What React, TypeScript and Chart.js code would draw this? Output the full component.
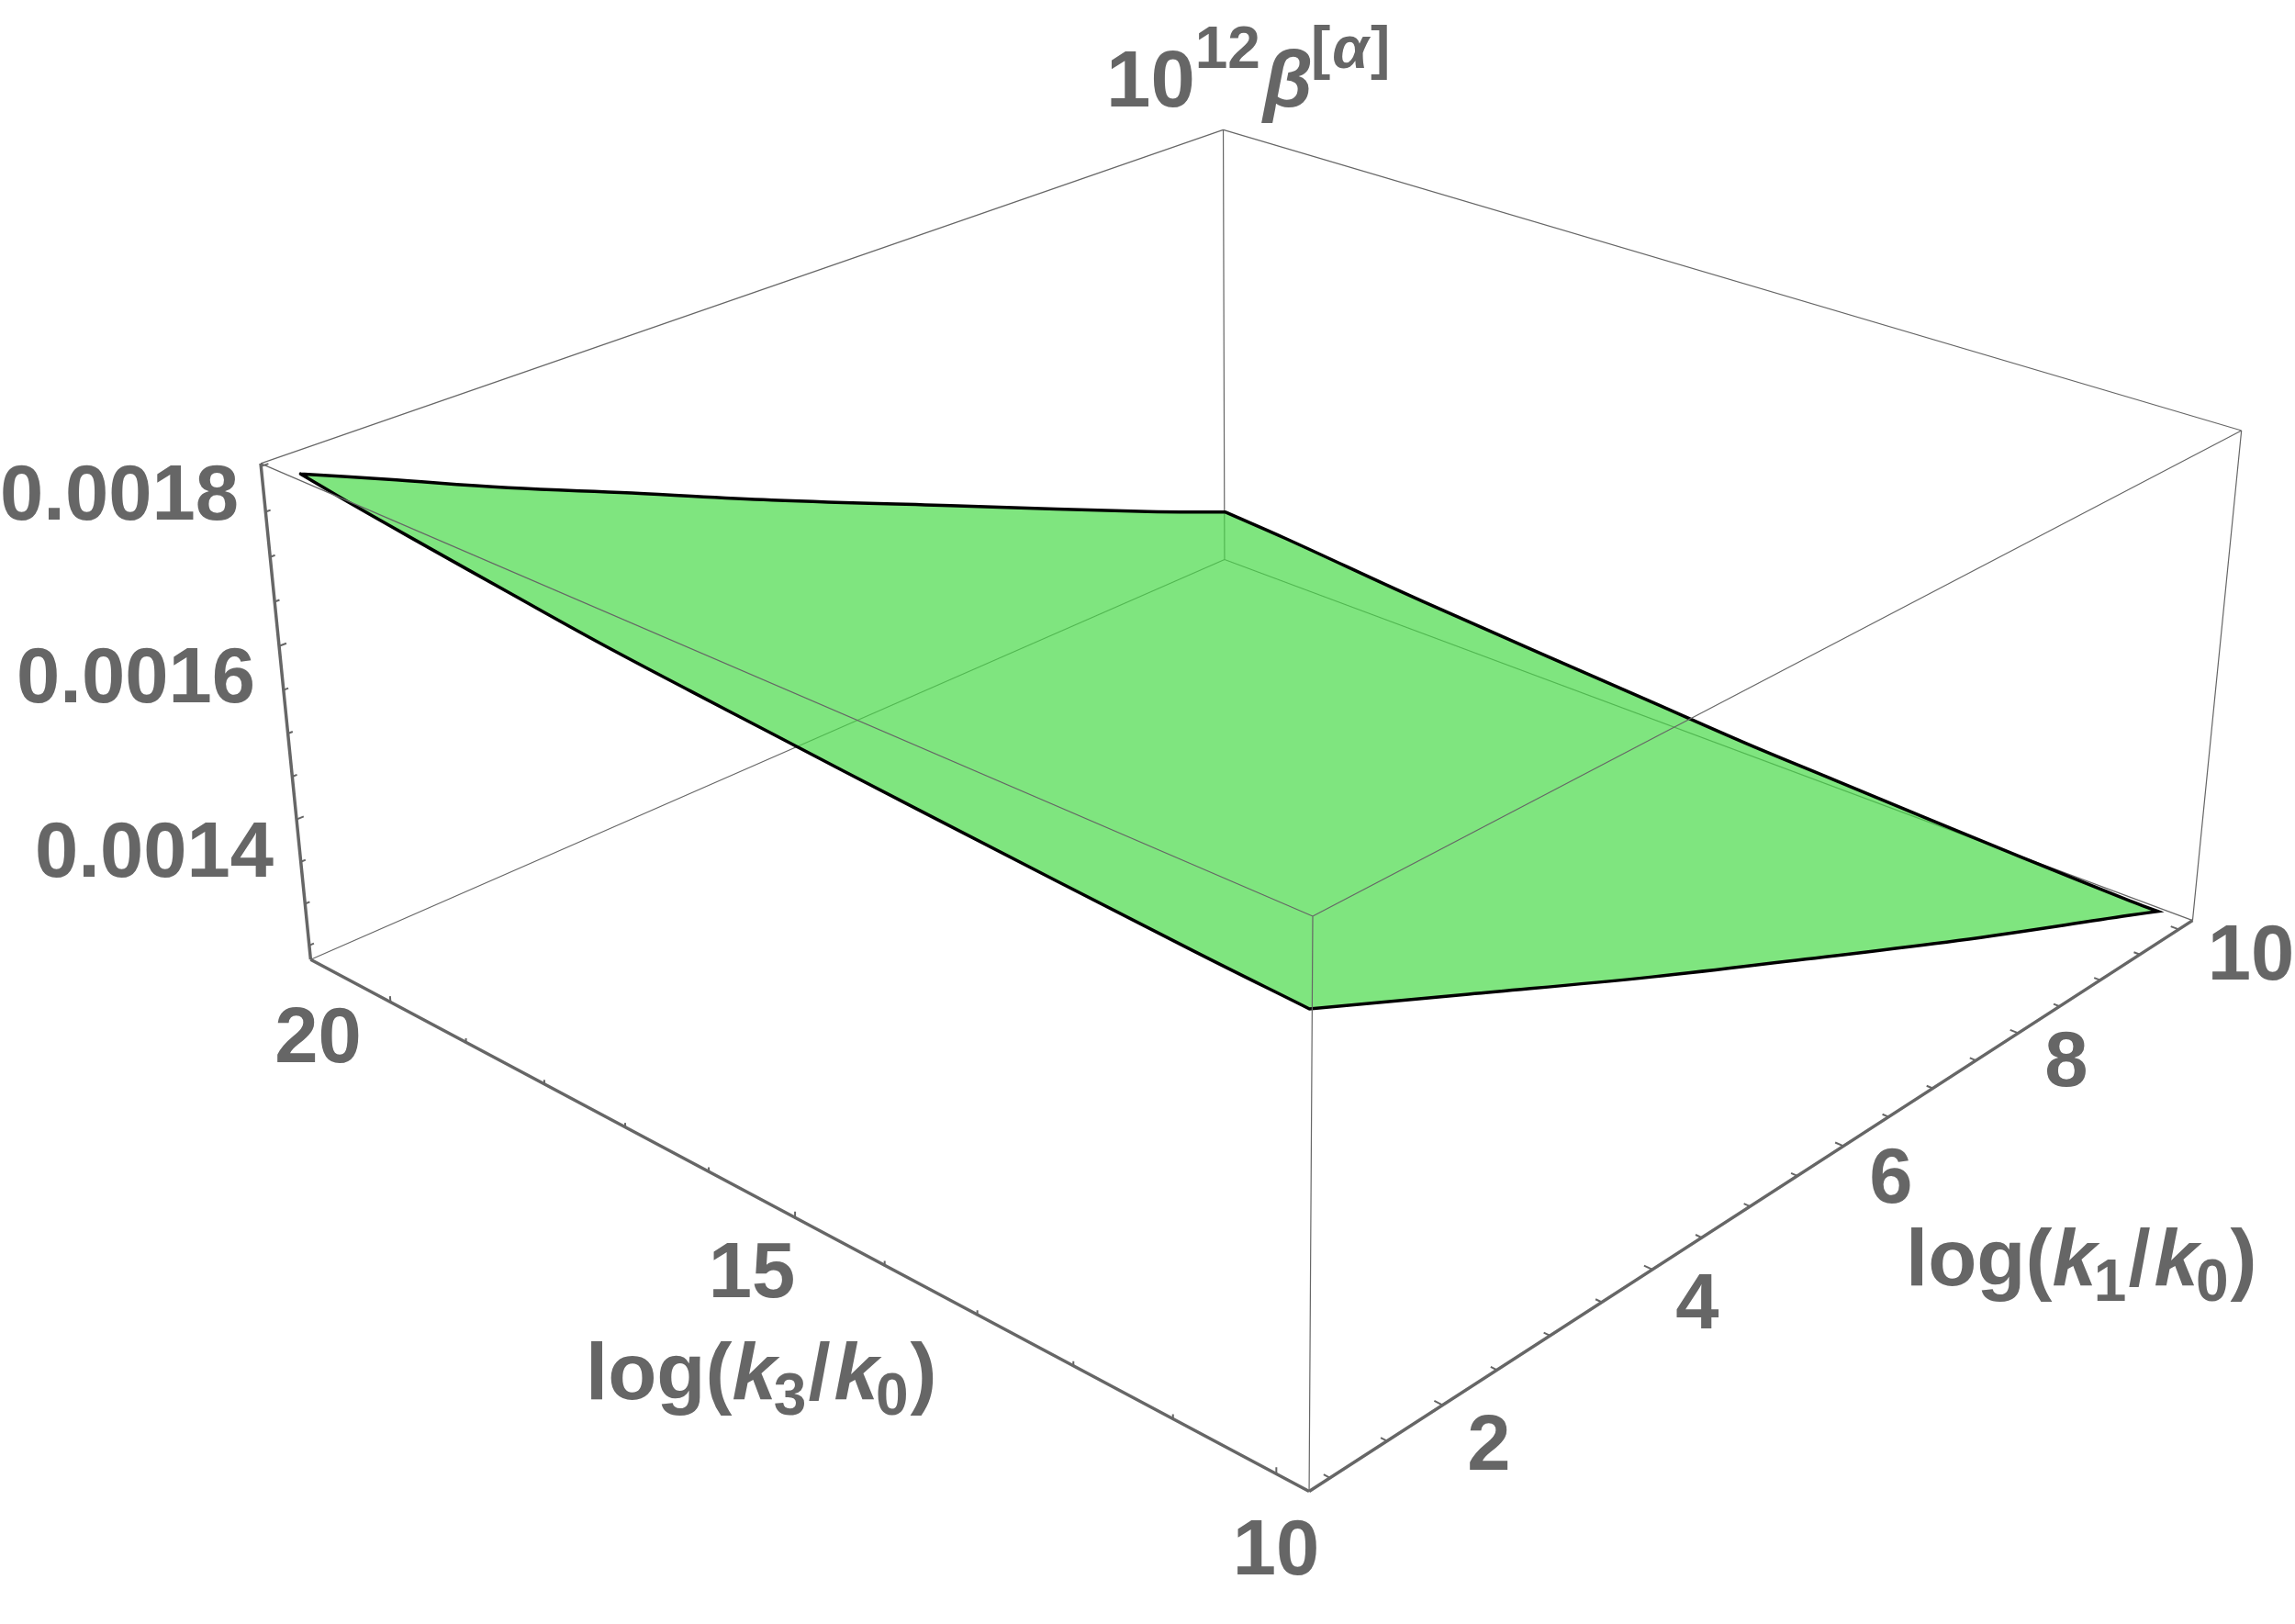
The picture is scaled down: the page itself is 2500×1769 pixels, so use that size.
import React, { useEffect, useRef } from "react";
import { Chart, registerables } from "chart.js";
Chart.register(...registerables);

// ---------- data (beta values in units of 1e-6) ----------
const edgeLowK1_k3 = [20.87, 20.16, 19.24, 18.28, 17.19, 16.14, 15.25, 13.7, 10.98, 9.91];
const edgeLowK1_beta = [1791, 1781, 1770, 1759, 1747, 1738, 1731, 1719, 1700, 1694];
const edgeHighK1_k3 = [20.87, 20.06, 18.27, 15.44, 14.36, 13.32, 12.31, 11.33, 10.19, 9.91];
const edgeHighK1_beta = [1315, 1309, 1292, 1271, 1263, 1258, 1253, 1249, 1245, 1245];
const edgeHighK3_k1 = [1, 1.68, 2.7, 3.79, 5.1, 7.05, 9.08, 10];
const edgeHighK3_beta = [1791, 1753, 1695, 1637, 1566, 1465, 1360, 1315];
const edgeLowK3_k1 = [1, 2.37, 4.11, 5.71, 7.45, 9.62, 10];
const edgeLowK3_beta = [1694, 1622, 1531, 1451, 1365, 1263, 1245];

const k1Ticks = [1, 1.5, 2, 2.5, 3, 3.5, 4, 4.5, 5, 5.5, 6, 6.5, 7, 7.5, 8, 8.5, 9, 9.5, 10];
const k1Major = [2, 4, 6, 8, 10];
const k3Ticks = [10, 11, 12, 13, 14, 15, 16, 17, 18, 19, 20];
const k3Major = [10, 15, 20];
const betaTicks = [1250, 1300, 1350, 1400, 1450, 1500, 1550, 1600, 1650, 1700, 1750, 1800];
const betaMajor = [1400, 1600, 1800];

const K1_RANGE = [0.82, 10.18];
const K3_RANGE = [9.69, 21.09];
const BETA_RANGE = [1233, 1803];

// ---------- camera: fitted to the eight projected corners of the box ----------
const boxCorners = [
  [0, 0, 0, 1426, 1624.3],
  [1, 0, 0, 2389, 1002.3],
  [0, 1, 0, 339, 1046],
  [1, 1, 0, 1333, 609.3],
  [0, 0, 1, 1429.3, 998.3],
  [1, 0, 1, 2441.7, 469.3],
  [0, 1, 1, 284, 504],
  [1, 1, 1, 1333, 141.7],
];
const W = 2500;
const H = 1769;

function solve(A: number[][], b: number[]) {
  const n = b.length;
  const M = A.map((r, i) => [...r, b[i]]);
  for (let i = 0; i < n; i++) {
    let p = i;
    for (let r = i + 1; r < n; r++) if (Math.abs(M[r][i]) > Math.abs(M[p][i])) p = r;
    [M[i], M[p]] = [M[p], M[i]];
    for (let r = 0; r < n; r++) {
      if (r === i) continue;
      const f = M[r][i] / M[i][i];
      for (let c = i; c <= n; c++) M[r][c] -= f * M[i][c];
    }
  }
  return M.map((r, i) => r[n] / r[i]);
}
function fitCamera() {
  const rows: number[][] = [];
  const rhs: number[] = [];
  for (const [u, v, w, X, Y] of boxCorners) {
    const x = X / W;
    const y = Y / H;
    rows.push([u, v, w, 1, 0, 0, 0, 0, -x * u, -x * v, -x * w]);
    rhs.push(x);
    rows.push([0, 0, 0, 0, u, v, w, 1, -y * u, -y * v, -y * w]);
    rhs.push(y);
  }
  const idx = Array.from({ length: 11 }, (_, i) => i);
  const N = idx.map((i) => idx.map((j) => rows.reduce((s, r) => s + r[i] * r[j], 0)));
  const B = idx.map((i) => rows.reduce((s, r, k) => s + r[i] * rhs[k], 0));
  return solve(N, B);
}
const cam = fitCamera();
type Pt = { x: number; y: number };
function project(k1: number, k3: number, beta: number): Pt {
  const u = (k1 - K1_RANGE[0]) / (K1_RANGE[1] - K1_RANGE[0]);
  const v = (k3 - K3_RANGE[0]) / (K3_RANGE[1] - K3_RANGE[0]);
  const w = (beta - BETA_RANGE[0]) / (BETA_RANGE[1] - BETA_RANGE[0]);
  const d = cam[8] * u + cam[9] * v + cam[10] * w + 1;
  return {
    x: (W * (cam[0] * u + cam[1] * v + cam[2] * w + cam[3])) / d,
    y: (H * (cam[4] * u + cam[5] * v + cam[6] * w + cam[7])) / d,
  };
}
const GAP: Pt = { x: NaN, y: NaN };
const [k1a, k1b] = K1_RANGE;
const [k3a, k3b] = K3_RANGE;
const [za, zb] = BETA_RANGE;

function segs(list: number[][][]) {
  const out: Pt[] = [];
  list.forEach(([p, q]) => {
    out.push(project(p[0], p[1], p[2]), project(q[0], q[1], q[2]), GAP);
  });
  return out;
}

const k3High = edgeLowK1_k3[0];
const k3Low = edgeLowK1_k3[edgeLowK1_k3.length - 1];
// Each edge keeps its own end points, so the corners are doubled and stay sharp under the curve tension.
const surface: Pt[] = [
  ...edgeHighK3_k1.map((k, i) => project(k, k3High, edgeHighK3_beta[i])),
  ...edgeHighK1_k3.map((k, i) => project(10, k, edgeHighK1_beta[i])),
  ...edgeLowK3_k1.map((k, i) => project(k, k3Low, edgeLowK3_beta[i])).reverse(),
  ...edgeLowK1_k3.map((k, i) => project(1, k, edgeLowK1_beta[i])).reverse(),
];

const backEdges = segs([
  [[k1b, k3b, za], [k1b, k3b, zb]],
  [[k1b, k3b, za], [k1a, k3b, za]],
  [[k1b, k3b, za], [k1b, k3a, za]],
]);
const frontEdges = segs([
  [[k1a, k3a, za], [k1a, k3a, zb]],
  [[k1b, k3a, za], [k1b, k3a, zb]],
  [[k1a, k3a, zb], [k1a, k3b, zb]],
  [[k1a, k3a, zb], [k1b, k3a, zb]],
  [[k1b, k3b, zb], [k1a, k3b, zb]],
  [[k1b, k3b, zb], [k1b, k3a, zb]],
]);
const axisEdges = segs([
  [[k1a, k3b, za], [k1a, k3b, zb]],
  [[k1a, k3a, za], [k1a, k3b, za]],
  [[k1a, k3a, za], [k1b, k3a, za]],
]);
const tickSegs = segs([
  ...k1Ticks.map((k) => [[k, k3a, za], [k, k3a + (k1Major.includes(k) ? 0.08 : 0.06), za]]),
  ...k3Ticks.map((k) => [[k1a, k, za], [k1a, k, za + (k3Major.includes(k) ? 7 : 5)]]),
  ...betaTicks.map((b) => [[k1a, k3b, b], [k1a + (betaMajor.includes(b) ? 0.06 : 0.04), k3b, b]]),
]);

// ---------- text ----------
const TEXT = "#666666";
const FAMILY = "'Liberation Sans'";
const TICK = `bold 85px ${FAMILY}`;
const BIG = `bold 87px ${FAMILY}`;
const BIG_IT = `italic bold 87px ${FAMILY}`;
const SMALL = `bold 64px ${FAMILY}`;
const SMALL_IT = `italic bold 64px ${FAMILY}`;

const tickLabels: [string, number, number][] = [
  ["0.0018", 130, 566],
  ["0.0016", 148, 765],
  ["0.0014", 168, 955],
  ["20", 346.5, 1157],
  ["15", 819, 1413],
  ["10", 1390, 1715],
  ["2", 1622, 1601],
  ["4", 1849, 1447],
  ["6", 2060, 1310],
  ["8", 2251, 1183],
  ["10", 2452, 1067],
];
type Run = { t: string; font: string; dx?: number; dy?: number };
const logLabel = (sub: string): Run[] => [
  { t: "log(", font: BIG },
  { t: "k", font: BIG_IT },
  { t: sub, font: SMALL, dx: -3, dy: 17 },
  { t: "/", font: BIG, dx: 2 },
  { t: "k", font: BIG_IT, dx: 4 },
  { t: "0", font: SMALL, dx: -3, dy: 17 },
  { t: ")", font: BIG, dx: 2 },
];
const runLabels: { x: number; y: number; runs: Run[] }[] = [
  { x: 2076, y: 1400, runs: logLabel("1") },
  { x: 638, y: 1524, runs: logLabel("3") },
  {
    x: 1205,
    y: 116,
    runs: [
      { t: "10", font: BIG },
      { t: "12", font: SMALL, dx: 0, dy: -42 },
      { t: "β", font: BIG_IT, dx: 3 },
      { t: "[", font: SMALL, dx: -2, dy: -42 },
      { t: "α", font: SMALL_IT, dx: 2, dy: -42 },
      { t: "]", font: SMALL, dx: 2, dy: -42 },
    ],
  },
];

const textPlugin = {
  id: "plotText",
  afterDraw(chart: any) {
    const { ctx, scales } = chart;
    ctx.save();
    ctx.fillStyle = TEXT;
    ctx.textBaseline = "alphabetic";
    ctx.textAlign = "center";
    ctx.font = TICK;
    tickLabels.forEach(([t, x, y]) => ctx.fillText(t, scales.x.getPixelForValue(x), scales.y.getPixelForValue(y)));
    ctx.textAlign = "left";
    runLabels.forEach(({ x, y, runs }) => {
      let cx = scales.x.getPixelForValue(x);
      const by = scales.y.getPixelForValue(y);
      runs.forEach((r) => {
        cx += r.dx ?? 0;
        ctx.font = r.font;
        ctx.fillText(r.t, cx, by + (r.dy ?? 0));
        cx += ctx.measureText(r.t).width;
      });
    });
    ctx.restore();
  },
};

export default function App() {
  const ref = useRef<HTMLCanvasElement>(null);
  useEffect(() => {
    const line = (data: Pt[], color: string, width: number, order: number) => ({
      data,
      borderColor: color,
      borderWidth: width,
      showLine: true,
      pointRadius: 0,
      fill: false,
      tension: 0,
      order,
    });
    const chart = new Chart(ref.current!, {
      type: "scatter",
      data: {
        datasets: [
          line(backEdges, "#666666", 1.2, 5),
          {
            ...line(surface, "#000000", 3.5, 4),
            fill: "shape",
            tension: 0.4,
            borderCapStyle: "round",
            backgroundColor: "rgba(73,218,73,0.7)",
          },
          line(frontEdges, "#666666", 1.2, 3),
          line(axisEdges, "#666666", 3.5, 2),
          line(tickSegs, "#666666", 2, 1),
        ] as any,
      },
      options: {
        animation: false,
        responsive: false,
        layout: { padding: 0 },
        scales: {
          x: { type: "linear", min: 0, max: W, display: false },
          y: { type: "linear", min: 0, max: H, reverse: true, display: false },
        },
        plugins: { legend: { display: false }, tooltip: { enabled: false } },
      },
      plugins: [textPlugin],
    });
    return () => chart.destroy();
  }, []);
  return <canvas ref={ref} width={W} height={H} style={{ position: "absolute", left: 0, top: 0, display: "block" }} />;
}
